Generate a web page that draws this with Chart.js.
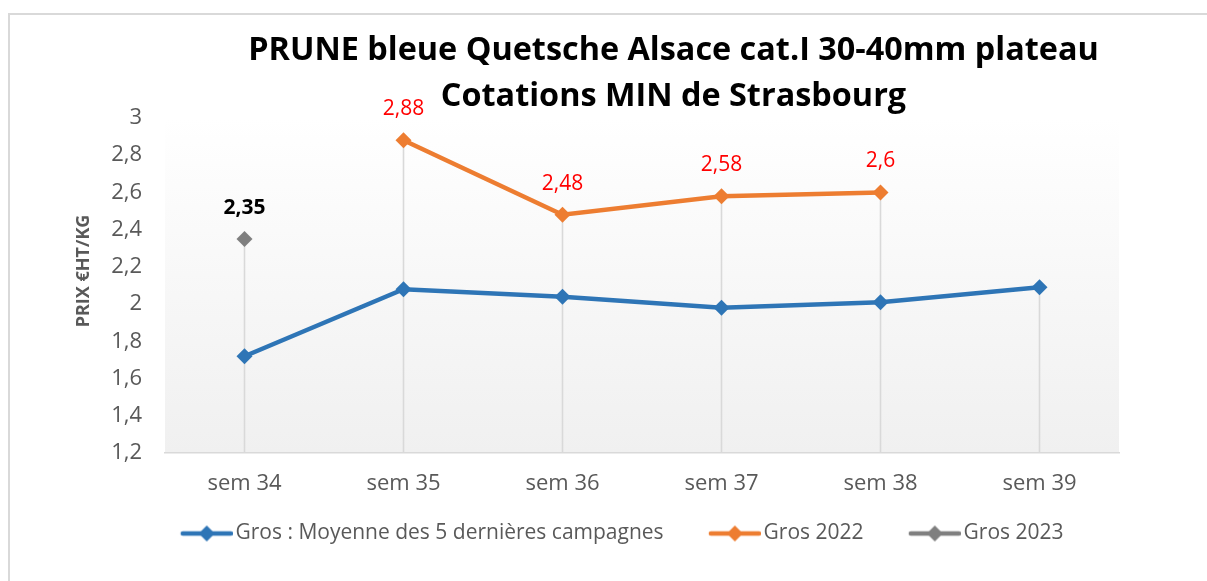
<!DOCTYPE html>
<html>
<head>
<meta charset="utf-8">
<script src="https://cdn.jsdelivr.net/npm/chart.js@4.4.0/dist/chart.umd.min.js"></script>
<style>
  html, body { margin: 0; padding: 0; background: #ffffff; }
  #wrap { position: relative; width: 1207px; height: 581px; overflow: hidden; }
  #frame { position: absolute; left: 8px; top: 13px; width: 1300px; height: 700px; border-left: 2px solid #d9d9d9; border-top: 2px solid #d9d9d9; box-sizing: border-box; }
  canvas { position: absolute; left: 0; top: 0; }
</style>
</head>
<body>
<div id="wrap">
  <div id="frame"></div>
  <canvas id="c" width="1207" height="581"></canvas>
</div>
<script>
const titleLines = ["PRUNE bleue Quetsche Alsace cat.I 30-40mm plateau", "Cotations MIN de Strasbourg"];
const categories = ["sem 34", "sem 35", "sem 36", "sem 37", "sem 38", "sem 39"];
const seriesNames = ["Gros : Moyenne des 5 dernières campagnes", "Gros 2022", "Gros 2023"];
const moyenne5 = [1.72, 2.08, 2.04, 1.98, 2.01, 2.09];
const gros2022 = [null, 2.88, 2.48, 2.58, 2.60, null];
const gros2023 = [2.35, null, null, null, null, null];
const yTickValues = [1.2, 1.4, 1.6, 1.8, 2.0, 2.2, 2.4, 2.6, 2.8, 3.0];
const yAxisTitle = "PRIX €HT/KG";

const FONT = "'Open Sans', 'Liberation Sans', sans-serif";
const colors = ["#2E75B6", "#ED7D31", "#7F7F7F"];

// legend icon: line with a diamond, drawn on the right part of a wider transparent canvas
function legendIcon(color) {
  const cv = document.createElement('canvas');
  cv.width = 83; cv.height = 20;
  const g = cv.getContext('2d');
  const a = 30;
  g.strokeStyle = color; g.lineWidth = 4.5; g.lineCap = 'round';
  g.beginPath(); g.moveTo(a + 3, 10); g.lineTo(a + 51, 10); g.stroke();
  g.fillStyle = color;
  const c = a + 27;
  g.beginPath(); g.moveTo(c, 2); g.lineTo(c + 8, 10); g.lineTo(c, 18); g.lineTo(c - 8, 10); g.closePath(); g.fill();
  return cv;
}

const fmt = v => String(v).replace('.', ',');

const bgPlugin = {
  id: 'plotBg',
  beforeDraw(chart) {
    const {ctx, chartArea: a} = chart;
    const gr = ctx.createLinearGradient(0, a.top, 0, a.bottom);
    gr.addColorStop(0, '#ffffff');
    gr.addColorStop(1, '#f0f0f0');
    ctx.save(); ctx.fillStyle = gr; ctx.fillRect(a.left, a.top, a.right - a.left, a.bottom - a.top); ctx.restore();
  }
};

const dropPlugin = {
  id: 'dropLines',
  beforeDatasetsDraw(chart) {
    const {ctx, chartArea: a, scales} = chart;
    ctx.save();
    ctx.strokeStyle = '#d9d9d9'; ctx.lineWidth = 1.6;
    categories.forEach((c, i) => {
      let mx = null;
      chart.data.datasets.forEach(ds => { const v = ds.data[i]; if (v != null && (mx == null || v > mx)) mx = v; });
      if (mx == null) return;
      const x = scales.x.getPixelForValue(i);
      ctx.beginPath(); ctx.moveTo(x, scales.y.getPixelForValue(mx)); ctx.lineTo(x, a.bottom); ctx.stroke();
    });
    ctx.restore();
  }
};

const labelPlugin = {
  id: 'dataLabels',
  afterDatasetsDraw(chart) {
    const {ctx} = chart;
    ctx.save();
    ctx.textAlign = 'center'; ctx.textBaseline = 'middle';
    chart.data.datasets.forEach((ds, di) => {
      if (!ds.labelColor) return;
      const meta = chart.getDatasetMeta(di);
      ctx.fillStyle = ds.labelColor;
      ctx.font = (ds.labelBold ? 'bold ' : '') + '21px ' + FONT;
      meta.data.forEach((pt, i) => {
        const v = ds.data[i];
        if (v == null) return;
        ctx.fillText(fmt(v), pt.x, pt.y - 31);
      });
    });
    ctx.restore();
  }
};

const titlePlugin = {
  id: 'bigTitle',
  afterDraw(chart) {
    const {ctx} = chart;
    ctx.save();
    ctx.fillStyle = '#000000';
    ctx.font = 'bold 32.4px ' + FONT;
    ctx.textAlign = 'center'; ctx.textBaseline = 'middle';
    const cx = chart.width / 2 + 70;
    ctx.fillText(titleLines[0], cx, 51);
    ctx.fillText(titleLines[1], cx, 97);
    ctx.restore();
    // y axis title
    ctx.save();
    ctx.fillStyle = '#595959';
    ctx.font = 'bold 18px ' + FONT;
    ctx.textAlign = 'center'; ctx.textBaseline = 'middle';
    ctx.translate(84, 271);
    ctx.rotate(-Math.PI / 2);
    ctx.fillText(yAxisTitle, 0, 0);
    ctx.restore();
  }
};

const LEFT_PAD = 102;

new Chart(document.getElementById('c'), {
  type: 'line',
  data: {
    labels: categories,
    datasets: [
      { label: seriesNames[0], data: moyenne5, borderColor: colors[0], backgroundColor: colors[0], borderWidth: 4.5, pointStyle: 'rectRot', pointRadius: 8, pointHoverRadius: 8, pointBorderWidth: 0, legendIcon: legendIcon(colors[0]) },
      { label: seriesNames[1], data: gros2022, borderColor: colors[1], backgroundColor: colors[1], borderWidth: 4.5, pointStyle: 'rectRot', pointRadius: 8, pointHoverRadius: 8, pointBorderWidth: 0, labelColor: '#FF0000', legendIcon: legendIcon(colors[1]) },
      { label: seriesNames[2], data: gros2023, borderColor: colors[2], backgroundColor: colors[2], borderWidth: 4.5, pointStyle: 'rectRot', pointRadius: 8, pointHoverRadius: 8, pointBorderWidth: 0, labelColor: '#000000', labelBold: true, legendIcon: legendIcon(colors[2]) }
    ]
  },
  options: {
    responsive: false,
    animation: false,
    layout: { padding: { top: 118, right: 88, bottom: 27, left: LEFT_PAD } },
    scales: {
      x: {
        offset: true,
        grid: { display: false, drawTicks: false, offset: true },
        border: { display: true, color: '#d9d9d9', width: 1.6 },
        ticks: { color: '#595959', font: { family: FONT, size: 22 }, padding: 18, maxRotation: 0 },
        afterFit(s) { s.height = 48; }
      },
      y: {
        min: 1.2, max: 3.0,
        grid: { display: false, drawTicks: false },
        border: { display: false },
        afterBuildTicks(s) { s.ticks = yTickValues.map(v => ({ value: v })); },
        ticks: { color: '#595959', font: { family: FONT, size: 22 }, padding: 23, callback: v => fmt(Math.round(v * 10) / 10) },
        title: { display: false },
        afterFit(s) { s.width = 165 - LEFT_PAD; }
      }
    },
    plugins: {
      title: { display: false },
      tooltip: { enabled: false },
      legend: {
        position: 'bottom',
        labels: {
          color: '#595959',
          font: { family: FONT, size: 21 },
          usePointStyle: true,
          pointStyleWidth: 67.5,
          padding: 22,
          generateLabels(chart) {
            return chart.data.datasets.map((ds, i) => ({
              text: ds.label, pointStyle: ds.legendIcon, fillStyle: ds.borderColor, strokeStyle: ds.borderColor,
              fontColor: '#595959', lineWidth: 0, hidden: false, datasetIndex: i
            }));
          }
        }
      }
    }
  },
  plugins: [bgPlugin, dropPlugin, labelPlugin, titlePlugin]
});
</script>
</body>
</html>
